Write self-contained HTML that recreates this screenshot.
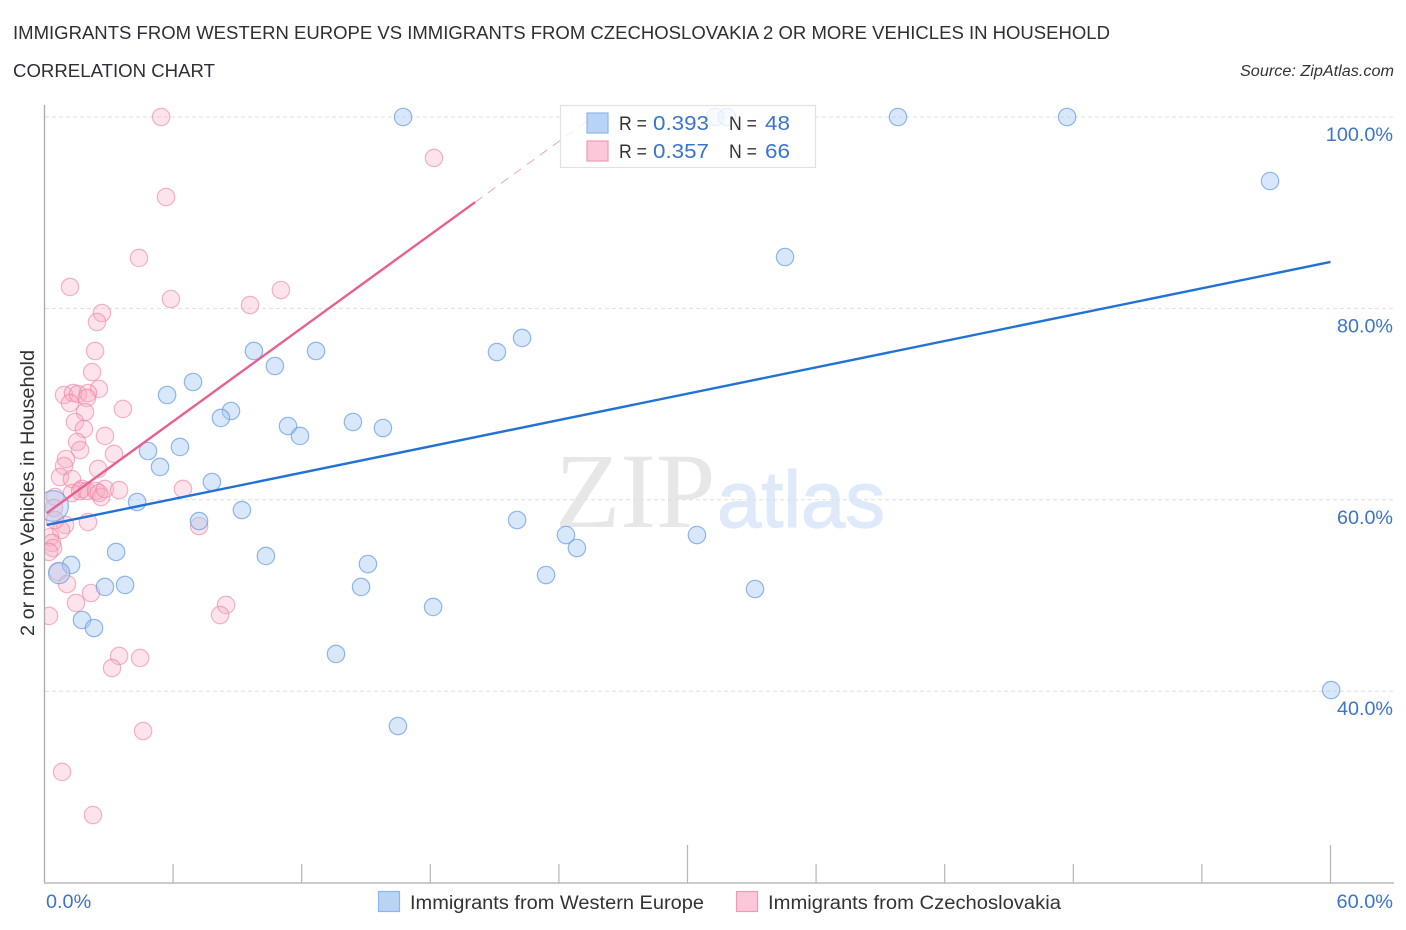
<!DOCTYPE html>
<html lang="en">
<head>
<meta charset="utf-8">
<title>Immigrants from Western Europe vs Immigrants from Czechoslovakia correlation chart</title>
<style>
  html, body { margin: 0; padding: 0; background: #ffffff; }
  svg { display: block; font-family: "Liberation Sans", sans-serif; }
</style>
</head>
<body>
<svg id="chart" xmlns="http://www.w3.org/2000/svg" width="1406" height="930" viewBox="0 0 1406 930">
  <defs>
    <clipPath id="plot-clip"><rect x="45" y="100" width="1361" height="783"></rect></clipPath>
  </defs>
  <text x="13" y="39" font-size="18.5" fill="#2c2f36" textLength="1097" lengthAdjust="spacingAndGlyphs">IMMIGRANTS FROM WESTERN EUROPE VS IMMIGRANTS FROM CZECHOSLOVAKIA 2 OR MORE VEHICLES IN HOUSEHOLD</text>
  <text x="13" y="77" font-size="18.5" fill="#2c2f36" textLength="202" lengthAdjust="spacingAndGlyphs">CORRELATION CHART</text>
  <text x="1394" y="76" font-size="15.5" font-style="italic" fill="#333333" text-anchor="end" textLength="154" lengthAdjust="spacingAndGlyphs">Source: ZipAtlas.com</text>

  <g>
    <text x="555" y="527" font-family="'Liberation Serif', serif" font-size="107" fill="#e7e7e7">ZIP</text>
    <text x="717" y="527" font-family="'Liberation Sans', sans-serif" font-size="80" fill="#deeaf9" stroke="#deeaf9" stroke-width="1.2" textLength="168" lengthAdjust="spacingAndGlyphs">atlas</text>
  </g>

  <g id="grid"></g>
  <g id="axes"></g>
  <g id="points" clip-path="url(#plot-clip)"></g>
  <g id="trends" clip-path="url(#plot-clip)"></g>

  <text transform="translate(34 493) rotate(-90)" font-size="19" fill="#333333" text-anchor="middle" textLength="286" lengthAdjust="spacingAndGlyphs">2 or more Vehicles in Household</text>

  <g>
    <rect x="560.5" y="105.5" width="255" height="62" fill="#ffffff" fill-opacity="0.78" stroke="#e2e2e2" stroke-width="1.2"></rect>
    <rect x="587" y="113" width="21" height="20" fill="#b9d3f6" stroke="#8db6ea" stroke-width="1.2"></rect>
    <rect x="587" y="141" width="21" height="20" fill="#fcc8d9" stroke="#ee9cb6" stroke-width="1.2"></rect>
    <text x="619" y="130" font-size="19" fill="#333333" textLength="28" lengthAdjust="spacingAndGlyphs">R =</text>
    <text x="653" y="130" font-size="20.5" fill="#3a74cc" textLength="56" lengthAdjust="spacingAndGlyphs">0.393</text>
    <text x="729" y="130" font-size="19" fill="#333333" textLength="28" lengthAdjust="spacingAndGlyphs">N =</text>
    <text x="765" y="130" font-size="20.5" fill="#3a74cc" textLength="25" lengthAdjust="spacingAndGlyphs">48</text>
    <text x="619" y="158" font-size="19" fill="#333333" textLength="28" lengthAdjust="spacingAndGlyphs">R =</text>
    <text x="653" y="158" font-size="20.5" fill="#3a74cc" textLength="56" lengthAdjust="spacingAndGlyphs">0.357</text>
    <text x="729" y="158" font-size="19" fill="#333333" textLength="28" lengthAdjust="spacingAndGlyphs">N =</text>
    <text x="765" y="158" font-size="20.5" fill="#3a74cc" textLength="25" lengthAdjust="spacingAndGlyphs">66</text>
  </g>

  <g>
    <rect x="378.5" y="891.5" width="21" height="20" fill="#b9d3f6" stroke="#8db6ea" stroke-width="1.2"></rect>
    <text x="410" y="909" font-size="19" fill="#333333" textLength="294" lengthAdjust="spacingAndGlyphs">Immigrants from Western Europe</text>
    <rect x="736.5" y="891.5" width="21" height="20" fill="#fcc8d9" stroke="#ee9cb6" stroke-width="1.2"></rect>
    <text x="768" y="909" font-size="19" fill="#333333" textLength="293" lengthAdjust="spacingAndGlyphs">Immigrants from Czechoslovakia</text>
  </g>
</svg>

<script>
// Tick values and printed labels
const yTickValues = [100, 80, 60, 40];
const yTickLabels = ["100.0%", "80.0%", "60.0%", "40.0%"];
const xTickValues = [0, 6, 12, 18, 24, 30, 36, 42, 48, 54, 60];
const xMajorTicks = [30, 60];
const xEndValues = [0, 60];
const xEndLabels = ["0.0%", "60.0%"];

// Immigrants from Western Europe (x %, y %)
const blueX = [16.73,31.29,31.84,39.82,47.71,57.18,34.55,22.28,21.11,12.67,9.77,10.75,6.93,5.72,8.70,8.23,11.36,11.92,14.39,15.79,6.32,4.83,5.39,7.81,4.32,9.21,22.05,7.21,24.33,30.44,24.84,3.34,10.33,15.09,1.24,0.68,23.40,3.76,2.82,14.77,33.15,18.13,1.75,2.31,13.60,16.49,60.03,0.40];
const blueY = [100,100,100,100,100,93.31,85.37,76.91,75.44,75.55,75.55,73.98,72.31,70.95,69.28,68.55,67.71,66.67,68.13,67.50,65.52,65.10,63.43,61.86,59.77,58.93,57.89,57.78,56.32,56.32,54.96,54.55,54.13,53.29,53.19,52.35,52.14,51.10,50.89,50.89,50.68,48.80,47.44,46.60,43.89,36.36,40.12,59.35];
const blueWeight = [1,1,1,1,1,1,1,1,1,1,1,1,1,1,1,1,1,1,1,1,1,1,1,1,1,1,1,1,1,1,1,1,1,1,1,1.5,1,1,1,1,1,1,1,1,1,1,1,3.1];

// Immigrants from Czechoslovakia (x %, y %)
const pinkX = [5.44,18.17,5.67,4.41,1.19,5.90,11.03,9.59,2.68,2.45,2.36,2.22,2.54,0.91,1.33,1.56,2.03,1.98,1.19,1.89,3.66,1.42,1.84,2.82,1.52,1.66,3.24,1.00,0.91,2.50,0.72,1.28,1.75,1.28,0.49,1.66,1.98,2.40,2.54,2.64,2.82,3.48,6.46,2.03,7.21,0.44,0.96,0.77,0.49,0.26,0.35,0.40,0.21,0.63,1.05,1.47,2.17,8.47,8.19,0.21,3.48,3.15,4.46,4.60,0.82,2.26];
const pinkY = [100,95.72,91.64,85.27,82.24,80.98,81.92,80.35,79.52,78.58,75.55,73.35,71.58,70.95,71.16,71.05,71.16,70.64,70.11,69.17,69.49,68.13,67.40,66.67,66.04,65.20,64.79,64.26,63.53,63.22,62.38,62.17,61.13,60.71,60.29,60.92,60.92,60.92,60.71,60.29,61.13,61.02,61.13,57.68,57.26,59.14,57.37,56.84,57.89,56.11,55.49,54.96,54.55,52.46,51.20,49.22,50.26,49.01,47.96,47.86,43.68,42.42,43.47,35.84,31.56,27.06];

// Trend lines (x %, y %)
const blueTrendX = [0.1, 60];
const blueTrendY = [57.37, 84.85];
const pinkTrendX = [0.1, 20.09];
const pinkTrendY = [58.6, 91.1];
const pinkTrendExtX = [20.09, 25.45];
const pinkTrendExtY = [91.1, 99.8];

const SVG_NS = "http://www.w3.org/2000/svg";
function xScale(v) { return 44.5 + v * (1330.5 - 44.5) / 60; }
function yScale(v) { return 117 + (100 - v) * 9.57; }
function make(tag, attrs, parent) {
  const el = document.createElementNS(SVG_NS, tag);
  for (const k in attrs) el.setAttribute(k, attrs[k]);
  parent.appendChild(el);
  return el;
}

const gridGroup = document.getElementById("grid");
const axesGroup = document.getElementById("axes");
const pointsGroup = document.getElementById("points");
const trendsGroup = document.getElementById("trends");

yTickValues.forEach(function (v, i) {
  const line = make("line", { x1: 45, x2: 1393, y1: yScale(v), y2: yScale(v), stroke: "#dfdfdf", "stroke-width": 1, "stroke-dasharray": "4 3" }, gridGroup);
  
  
  const label = make("text", { x: 1393, y: yScale(v) + 24, "font-size": 19.5, fill: "#3a74cc", "text-anchor": "end", textLength: yTickLabels[i].length * 11.2, lengthAdjust: "spacingAndGlyphs" }, axesGroup);
  
  
  label.textContent = yTickLabels[i];
});

const yAxisLine = make("line", { x1: 44.5, x2: 44.5, y1: 105, y2: 883, stroke: "#a9a9a9", "stroke-width": 1.3 }, axesGroup);


const xAxisLine = make("line", { x1: 44, x2: 1394, y1: 883, y2: 883, stroke: "#bcbcbc", "stroke-width": 1.4 }, axesGroup);



xTickValues.forEach(function (v) {
  if (v === 0) return;
  const major = xMajorTicks.indexOf(v) >= 0;
  const tick = make("line", { x1: xScale(v), x2: xScale(v), y1: major ? 845 : 864, y2: 883, stroke: "#b5b5b5", "stroke-width": 1.2 }, axesGroup);
  
  
});

xEndValues.forEach(function (v, i) {
  const label = make("text", { x: i === 0 ? 46 : 1393, y: 908, "font-size": 19.5, fill: "#3a74cc", "text-anchor": i === 0 ? "start" : "end", textLength: xEndLabels[i].length * 11.3, lengthAdjust: "spacingAndGlyphs" }, axesGroup);
  
  
  label.textContent = xEndLabels[i];
});

pinkX.forEach(function (v, i) {
  const c = make("circle", { cx: xScale(v), cy: yScale(pinkY[i]), r: 8.7, fill: "#f9a9c1", "fill-opacity": 0.33, stroke: "#ec7fa2", "stroke-opacity": 0.58, "stroke-width": 1.2 }, pointsGroup);
  
  
});

blueX.forEach(function (v, i) {
  const r = 8.7 * Math.sqrt(blueWeight[i]);
  const c = make("circle", { cx: xScale(v), cy: yScale(blueY[i]), r: r, fill: "#a9c9f2", "fill-opacity": 0.45, stroke: "#5f98e3", "stroke-opacity": 0.68, "stroke-width": 1.2 }, pointsGroup);
  
  
});

const blueTrend = make("line", { x1: xScale(blueTrendX[0]), y1: yScale(blueTrendY[0]), x2: xScale(blueTrendX[1]), y2: yScale(blueTrendY[1]), stroke: "#2272d6", "stroke-width": 2.4 }, trendsGroup);



const pinkTrend = make("line", { x1: xScale(pinkTrendX[0]), y1: yScale(pinkTrendY[0]), x2: xScale(pinkTrendX[1]), y2: yScale(pinkTrendY[1]), stroke: "#e8608f", "stroke-width": 2.4 }, trendsGroup);



const pinkExt = make("line", { x1: xScale(pinkTrendExtX[0]), y1: yScale(pinkTrendExtY[0]), x2: xScale(pinkTrendExtX[1]), y2: yScale(pinkTrendExtY[1]), stroke: "#eea5bd", "stroke-width": 1, "stroke-dasharray": "9 7" }, trendsGroup);


</script>
</body>
</html>
